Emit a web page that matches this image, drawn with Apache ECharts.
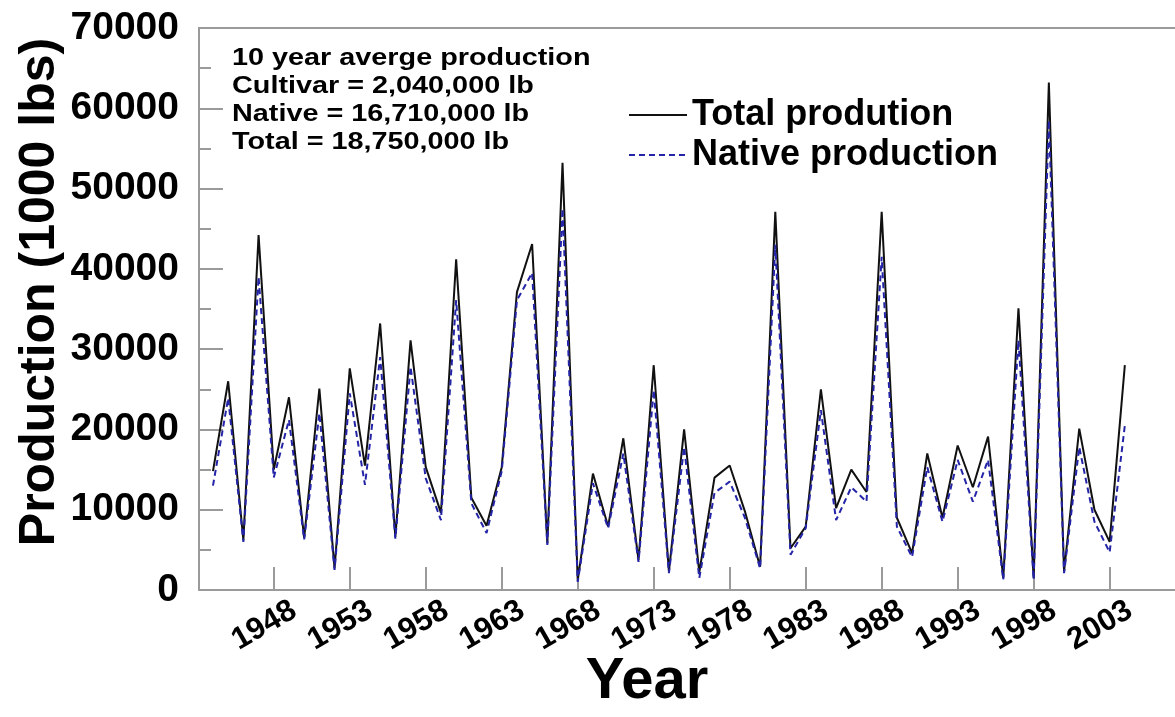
<!DOCTYPE html>
<html>
<head>
<meta charset="utf-8">
<title>Production</title>
<script src="https://cdn.jsdelivr.net/npm/echarts@6/dist/echarts.min.js"></script>
<style>
  html, body { margin: 0; padding: 0; background: #ffffff; }
  #chart { width: 1175px; height: 717px; }
</style>
</head>
<body>
<div id="chart"></div>
<script>
// Annual production, 1000 lbs
const years = [1944, 1945, 1946, 1947, 1948, 1949, 1950, 1951, 1952, 1953,
               1954, 1955, 1956, 1957, 1958, 1959, 1960, 1961, 1962, 1963,
               1964, 1965, 1966, 1967, 1968, 1969, 1970, 1971, 1972, 1973,
               1974, 1975, 1976, 1977, 1978, 1979, 1980, 1981, 1982, 1983,
               1984, 1985, 1986, 1987, 1988, 1989, 1990, 1991, 1992, 1993,
               1994, 1995, 1996, 1997, 1998, 1999, 2000, 2001, 2002, 2003, 2004];

const totalProduction = [14800, 26000, 6200, 44200, 15000, 24000, 6500, 25100, 2700, 27600,
                         15500, 33200, 6600, 31100, 15300, 9600, 41200, 11500, 8000, 15300,
                         37100, 43100, 5800, 53200, 1200, 14500, 7900, 18900, 3700, 28000,
                         2300, 20000, 2200, 14000, 15500, 9800, 2900, 47100, 5200, 7900,
                         25000, 10200, 15000, 12200, 47100, 9000, 4600, 17000, 9000, 18000,
                         12800, 19100, 1500, 35100, 1500, 63200, 2300, 20100, 10000, 6000, 28000];

const nativeProduction = [13000, 23900, 6000, 39000, 14000, 21200, 6300, 22000, 2500, 24500,
                          13100, 29000, 6400, 27800, 13900, 8700, 36100, 10800, 7100, 14800,
                          36100, 39500, 5600, 47500, 1000, 13300, 7700, 17000, 3500, 24900,
                          2100, 17800, 1500, 12100, 13500, 9000, 2700, 43000, 4400, 7700,
                          22400, 8700, 12800, 11000, 41500, 7900, 4100, 15300, 8500, 16200,
                          11000, 16200, 1300, 31100, 1300, 58500, 2100, 17800, 8500, 4700, 20500];

const yearTicks = [1948, 1953, 1958, 1963, 1968, 1973, 1978, 1983, 1988, 1993, 1998, 2003];

const noteLines = [
  '10 year averge production',
  'Cultivar = 2,040,000 lb',
  'Native = 16,710,000 lb',
  'Total = 18,750,000 lb'
];

const FONT = '"Liberation Sans", Arial, Helvetica, sans-serif';
const AXIS_GRAY = '#9a9a9a';
const TOTAL_COLOR = '#111111';
const NATIVE_COLOR = '#2424a8';

const chart = echarts.init(document.getElementById('chart'), null, { renderer: 'canvas' });

const pairs = (vals) => years.map((y, i) => [y, vals[i]]);

chart.setOption({
  animation: false,
  backgroundColor: '#ffffff',
  grid: { left: 199, right: 0, top: 28, bottom: 127, containLabel: false, outerBoundsMode: 'none' },
  xAxis: [
    {
      type: 'value',
      min: 1943.08,
      max: 2007.3,
      name: 'Year',
      nameLocation: 'middle',
      nameGap: 63,
      nameMoveOverlap: false,
      nameTextStyle: { fontFamily: FONT, fontWeight: 'bold', fontSize: 58, color: '#000', padding: [0, 80, 0, 0] },
      axisLine: { show: true, lineStyle: { color: AXIS_GRAY, width: 2 } },
      axisTick: { show: true, inside: true, length: 23, customValues: yearTicks, lineStyle: { color: AXIS_GRAY, width: 2 } },
      axisLabel: {
        show: true,
        customValues: yearTicks,
        showMinLabel: true,
        showMaxLabel: true,
        hideOverlap: false,
        rotate: 30,
        margin: 30,
        align: 'center',
        verticalAlign: 'middle',
        padding: [0, 22, 0, 0],
        fontFamily: FONT,
        fontWeight: 'bold',
        fontSize: 31,
        color: '#000',
        formatter: (v) => String(v)
      },
      splitLine: { show: false }
    },
    {
      type: 'value',
      position: 'top',
      min: 1943.08,
      max: 2007.3,
      axisLine: { show: true, lineStyle: { color: AXIS_GRAY, width: 2 } },
      axisTick: { show: false },
      axisLabel: { show: false },
      splitLine: { show: false }
    }
  ],
  yAxis: {
    type: 'value',
    min: 0,
    max: 70000,
    interval: 10000,
    name: 'Production (1000 lbs)',
    nameLocation: 'middle',
    nameGap: 134,
    nameMoveOverlap: false,
    nameRotate: 90,
    nameTextStyle: { fontFamily: FONT, fontWeight: 'bold', fontSize: 50, color: '#000', padding: [0, 0, 0, 34] },
    axisLine: { show: true, lineStyle: { color: AXIS_GRAY, width: 2 } },
    axisTick: { show: true, inside: true, length: 24, lineStyle: { color: AXIS_GRAY, width: 2 } },
    minorTick: { show: true, splitNumber: 2, length: 12, lineStyle: { color: AXIS_GRAY, width: 2 } },
    axisLabel: {
      margin: 20, fontFamily: FONT, fontWeight: 'bold', fontSize: 39, color: '#000',
      formatter: (v) => String(v)
    },
    splitLine: { show: false }
  },
  legend: {
    orient: 'vertical',
    left: 628,
    top: 97,
    padding: 0,
    itemWidth: 58,
    itemHeight: 14,
    itemGap: 4,
    itemStyle: { opacity: 0 },
    textStyle: { fontFamily: FONT, fontWeight: 'bold', fontSize: 36, color: '#000' },
    data: ['Total prodution', 'Native production']
  },
  graphic: noteLines.map((t, i) => ({
    type: 'text',
    x: 232,
    y: 58 + i * 28,
    scaleX: 1.2,
    style: { text: t, fontFamily: FONT, fontWeight: 'bold', fontSize: 24, fill: '#000', verticalAlign: 'middle' }
  })),
  series: [
    {
      name: 'Total prodution',
      type: 'line',
      data: pairs(totalProduction),
      symbol: 'none',
      lineStyle: { color: TOTAL_COLOR, width: 2, type: 'solid' },
      itemStyle: { color: TOTAL_COLOR },
      z: 2
    },
    {
      name: 'Native production',
      type: 'line',
      data: pairs(nativeProduction),
      symbol: 'none',
      lineStyle: { color: NATIVE_COLOR, width: 2, type: [6, 4] },
      itemStyle: { color: NATIVE_COLOR },
      z: 3
    }
  ]
});
</script>
</body>
</html>
